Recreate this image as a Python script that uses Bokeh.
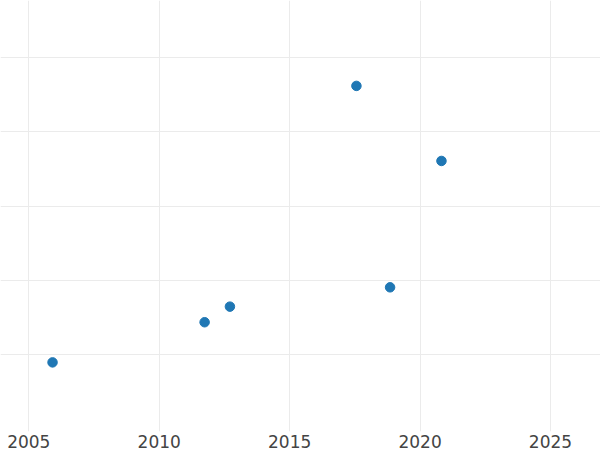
from bokeh.plotting import figure
from bokeh.models import FixedTicker, Range1d, ColumnDataSource
from bokeh.embed import file_html
from bokeh.resources import INLINE

# Data
years = [2005.91, 2011.74, 2012.71, 2017.56, 2018.85, 2020.82]
values = [0.90, 1.44, 1.65, 4.62, 1.91, 3.61]

x_ticks = [2005, 2010, 2015, 2020, 2025]
y_ticks = [1, 2, 3, 4, 5]

source = ColumnDataSource(data=dict(x=years, y=values))

p = figure(
    width=600, height=450,
    output_backend="svg", toolbar_location=None,
    x_range=Range1d(2003.915, 2026.917),
    y_range=Range1d(-0.03, 5.769),
    min_border_left=0, min_border_right=0, min_border_top=0, min_border_bottom=0,
)

p.scatter("x", "y", source=source, size=9.5, color="#1f77b4", line_color="#1f77b4")

p.outline_line_color = None
p.background_fill_color = "white"
p.border_fill_color = "white"

p.xaxis.ticker = FixedTicker(ticks=x_ticks)
p.yaxis.ticker = FixedTicker(ticks=y_ticks)
p.yaxis.visible = False

p.xaxis.axis_line_color = None
p.xaxis.major_tick_line_color = None
p.xaxis.minor_tick_line_color = None
p.xaxis.major_tick_out = 0
p.xaxis.major_tick_in = 0
p.xaxis.major_label_standoff = 3
p.xaxis.major_label_text_font = "DejaVu Sans"
p.xaxis.major_label_text_font_size = "17px"
p.xaxis.major_label_text_color = "#444444"

p.xgrid.grid_line_color = "#ebebeb"
p.ygrid.grid_line_color = "#ebebeb"
p.xgrid.grid_line_width = 1
p.ygrid.grid_line_width = 1

open("out.html", "w").write(file_html(p, INLINE))
